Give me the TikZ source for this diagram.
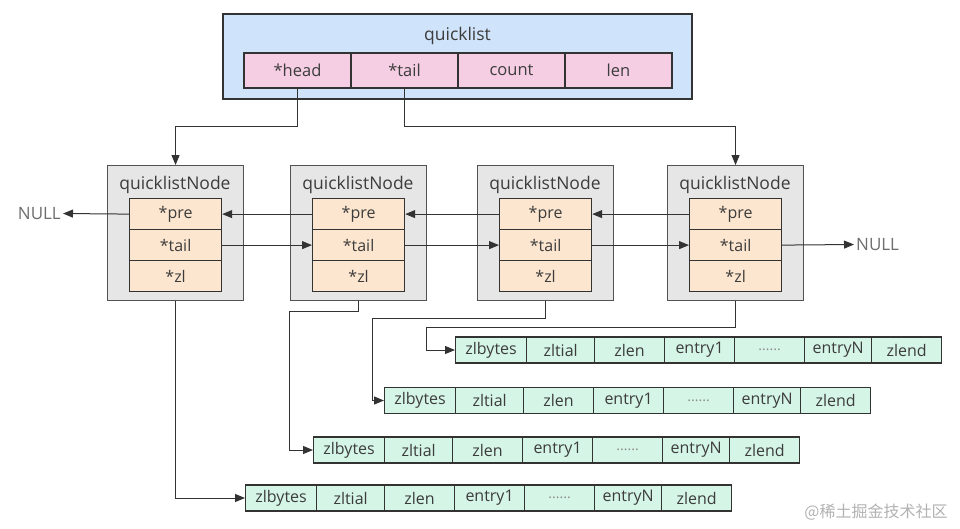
\documentclass[tikz,border=0pt]{standalone}
\usepackage{fontspec}
\setmainfont{Open Sans}
\newfontfamily\cjkfont{Noto Sans CJK SC}
\usetikzlibrary{arrows.meta,calc}
\definecolor{qlblue}{HTML}{CFE4FA}
\definecolor{qlpink}{HTML}{F6CEE3}
\definecolor{ndgray}{HTML}{E6E6E6}
\definecolor{peach}{HTML}{FCE6CF}
\definecolor{mint}{HTML}{D5F5E6}
\definecolor{ink}{HTML}{333333}
\definecolor{txt}{HTML}{3C3C3C}
\tikzset{
  outerbox/.style={draw=ink, line width=1.2pt, inner sep=0pt},
  qcell/.style={draw=ink, line width=1.2pt, fill=qlpink, minimum width=107pt, minimum height=35pt, inner sep=0pt, text=txt, font=\fontsize{16.5}{16.5}\selectfont},
  nodebox/.style={draw=ink!85, line width=1.1pt, fill=ndgray, minimum width=136pt, minimum height=135pt, inner sep=0pt},
  field/.style={draw=ink, line width=1.2pt, fill=peach, minimum width=92pt, minimum height=31pt, inner sep=0pt, text=txt, font=\fontsize{16}{16}\selectfont},
  ntitle/.style={text=txt, inner sep=0pt, font=\fontsize{17.5}{17.5}\selectfont},
  zcell/.style={draw=ink, line width=1.2pt, fill=mint, minimum height=26pt, inner sep=0pt, text=txt, font=\fontsize{16}{16}\selectfont},
  dots/.style={text=txt!60, font=\fontsize{14}{14}\selectfont},
  arr/.style={draw=ink, line width=1pt, -{Triangle[length=10pt,width=8pt]}},
  nulltxt/.style={text=txt!75, inner sep=2pt, font=\fontsize{17}{17}\selectfont}
}
\newcommand\qlnode[2]{%
  \node[nodebox, anchor=north west] (#1) at (#2,165) {};
  \node[ntitle] (#1t) at (#2+68,185) {quicklistNode};
  \node[field, anchor=north west] (#1pre) at (#2+22,198) {*pre};
  \node[field, anchor=north west] (#1tail) at (#2+22,229) {*tail};
  \node[field, anchor=north west] (#1zl) at (#2+22,260) {*zl};
}
\newcommand\ziprow[3]{%
  \foreach \lab/\w/\off/\sty [count=\i] in {zlbytes/71/0/{}, zltial/68/71/{}, zlen/70/139/{}, entry1/70/209/{}, {......}/70/279/dots, entryN/67/349/{}, zlend/70/416/{}}{
    \node[zcell, minimum width=\w pt, anchor=west, \sty] (#1\i) at (#2+\off,#3) {\lab};
  }%
}
\begin{document}
\begin{tikzpicture}[x=1pt,y=-1pt]
\useasboundingbox (0,0) rectangle (960,528);
\fill[white] (0,0) rectangle (960,528);

% quicklist header
\node[outerbox, fill=qlblue, minimum width=469pt, minimum height=85pt] (ql) at (457.5,56.5) {};
\node[ntitle] (qlt) at (457.5,36) {quicklist};
\node[qcell] (head) at (297.5,70.5) {*head};
\node[qcell] (tail) at (404.5,70.5) {*tail};
\node[qcell] (count) at (511.5,70.5) {count};
\node[qcell] (len) at (618.5,70.5) {len};

% quicklist nodes
\qlnode{n1}{107}
\qlnode{n2}{290}
\qlnode{n3}{477}
\qlnode{n4}{667}

% NULL labels
\node[nulltxt, anchor=east] (nullL) at (63,213.5) {NULL};
\node[nulltxt, anchor=west] (nullR) at (854,244.5) {NULL};

% head / tail pointers
\draw[arr] (head.south) -- ++(0,38) -| (n1.north);
\draw[arr] (tail.south) -- ++(0,38) -| (n4.north);

% pre / tail links
\draw[arr] (n1pre.west) -- (nullL.east);
\draw[arr] (n2pre.west) -- (n1pre.east);
\draw[arr] (n3pre.west) -- (n2pre.east);
\draw[arr] (n4pre.west) -- (n3pre.east);
\draw[arr] (n1tail.east) -- (n2tail.west);
\draw[arr] (n2tail.east) -- (n3tail.west);
\draw[arr] (n3tail.east) -- (n4tail.west);
\draw[arr] (n4tail.east) -- (nullR.west);

% ziplists
\ziprow{za}{455}{350}
\ziprow{zb}{384}{400.5}
\ziprow{zc}{313}{450}
\ziprow{zd}{245}{498}

% zl pointers
\draw[arr] (n1.south) |- (zd1.west);
\draw[arr] (n2.south) -- ++(0,10) -| ([xshift=-24pt]zc1.west) -- (zc1.west);
\draw[arr] (n3.south) -- ++(0,17) -| ([xshift=-12pt]zb1.west) -- (zb1.west);
\draw[arr] (n4.south) -- ++(0,26) -| ([xshift=-29pt]za1.west) -- (za1.west);

% watermark
\node[text=black!30, inner sep=0pt, font=\cjkfont\fontsize{16}{16}\selectfont] (wm) at (876,512) {@稀土掘金技术社区};
\end{tikzpicture}
\end{document}
